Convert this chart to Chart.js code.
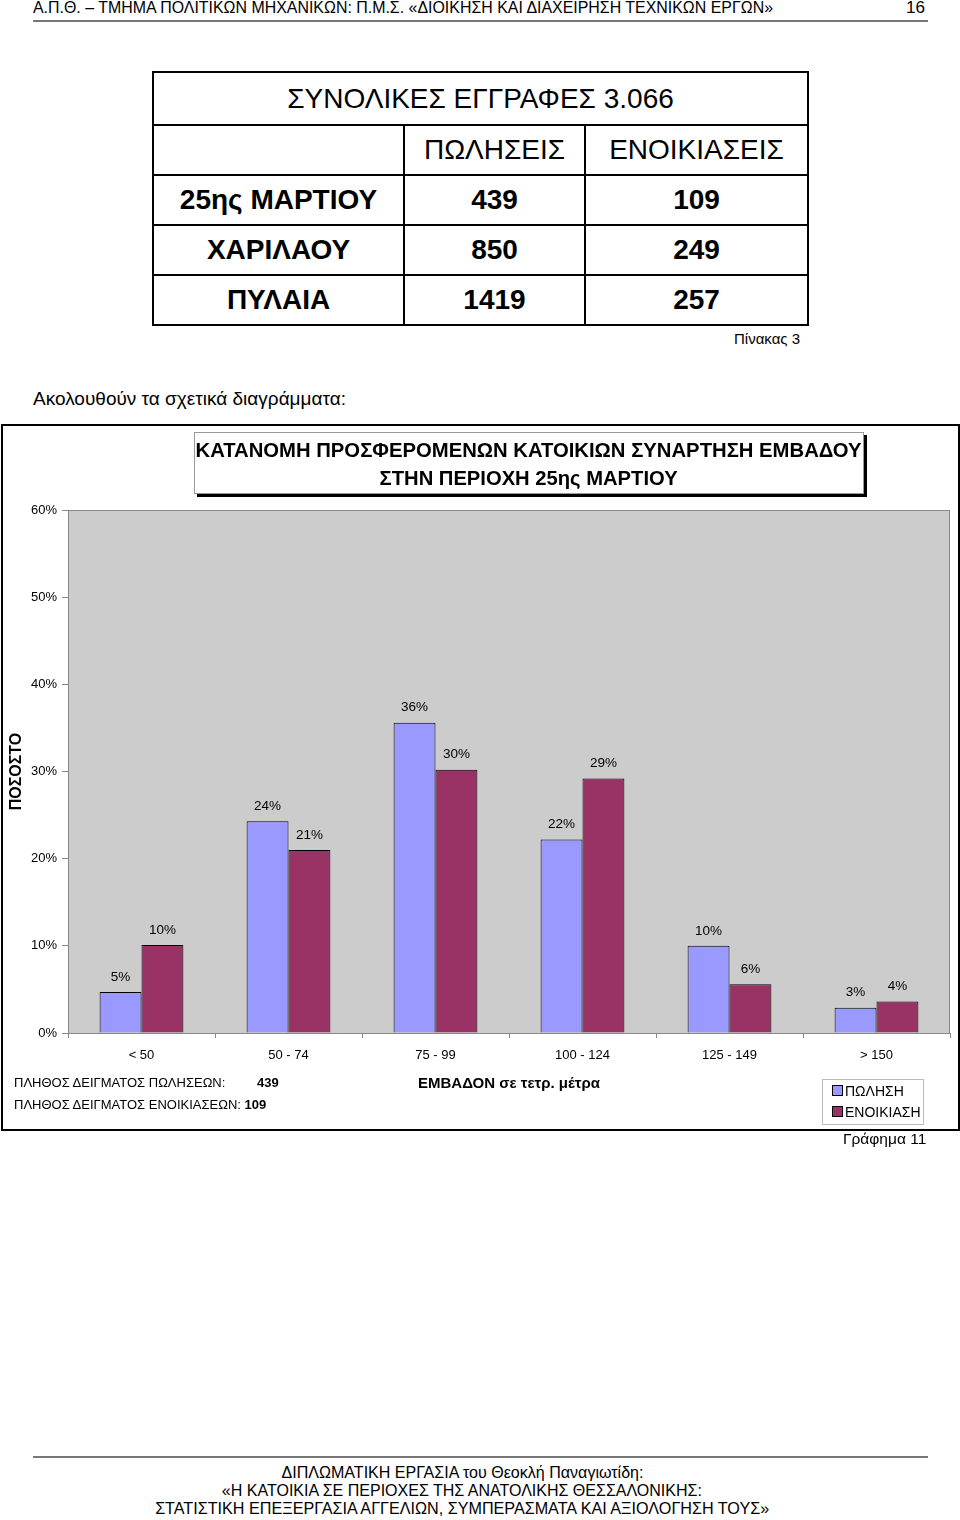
<!DOCTYPE html>
<html>
<head>
<meta charset="utf-8">
<script src="https://cdn.jsdelivr.net/npm/chart.js@4.4.1/dist/chart.umd.min.js"></script>
<style>
  html, body { margin:0; padding:0; background:#fff; }
  #page { position:relative; width:960px; height:1520px; font-family:"Liberation Sans", Arial, sans-serif; color:#000; overflow:hidden; }
  .abs { position:absolute; white-space:nowrap; }
  .fit { transform-origin:left center; display:inline-block; }
  table.t { position:absolute; left:152px; top:71px; border-collapse:collapse; font-size:28px; }
  table.t td { border:2px solid #000; text-align:center; padding:0; height:48px; }
  .b { font-weight:bold; }
  #frame { position:absolute; left:1px; top:424px; width:955px; height:703px; border:2px solid #000; }
  #titlebox { position:absolute; left:194px; top:432px; width:670px; height:62px; border:1px solid #999; background:#fff; box-shadow:3px 3px 0 #000; text-align:center; font-weight:bold; font-size:20px; line-height:28px; padding-top:3px; box-sizing:border-box; white-space:nowrap; }
  #legend { position:absolute; left:822px; top:1079px; width:100px; height:44px; border:1px solid #bbb; font-size:14px; }
  #legend div { position:absolute; left:9px; }
  #legend span.sw { display:inline-block; width:9px; height:9px; border:1px solid #000; margin-right:2px; vertical-align:0px; }
</style>
</head>
<body>
<div id="page">
  <div class="abs" style="left:33px; top:-2px; font-size:17px;"><span class="fit" data-w="740">Α.Π.Θ. – ΤΜΗΜΑ ΠΟΛΙΤΙΚΩΝ ΜΗΧΑΝΙΚΩΝ: Π.Μ.Σ. «ΔΙΟΙΚΗΣΗ ΚΑΙ ΔΙΑΧΕΙΡΗΣΗ ΤΕΧΝΙΚΩΝ ΕΡΓΩΝ»</span></div>
  <div class="abs" style="left:906px; top:-2px; font-size:17px;"><span class="fit" data-w="19">16</span></div>
  <div class="abs" style="left:33px; top:20px; width:895px; height:2px; background:#777;"></div>

  <table class="t">
    <tr><td colspan="3" style="height:51px;">ΣΥΝΟΛΙΚΕΣ ΕΓΓΡΑΦΕΣ 3.066</td></tr>
    <tr><td style="width:249px;"></td><td style="width:179px;">ΠΩΛΗΣΕΙΣ</td><td style="width:221px;">ΕΝΟΙΚΙΑΣΕΙΣ</td></tr>
    <tr><td class="b">25ης ΜΑΡΤΙΟΥ</td><td class="b">439</td><td class="b">109</td></tr>
    <tr><td class="b">ΧΑΡΙΛΑΟΥ</td><td class="b">850</td><td class="b">249</td></tr>
    <tr><td class="b">ΠΥΛΑΙΑ</td><td class="b">1419</td><td class="b">257</td></tr>
  </table>
  <div class="abs" style="left:734px; top:330px; font-size:15px;">Πίνακας 3</div>
  <div class="abs" style="left:33px; top:388px; font-size:19px;">Ακολουθούν τα σχετικά διαγράμματα:</div>

  <div id="frame"></div>
  <canvas id="c" width="954" height="700" style="position:absolute; left:3px; top:426px;"></canvas>
  <div id="titlebox"><span class="fit" data-w="666" style="transform-origin:center;">ΚΑΤΑΝΟΜΗ ΠΡΟΣΦΕΡΟΜΕΝΩΝ ΚΑΤΟΙΚΙΩΝ ΣΥΝΑΡΤΗΣΗ ΕΜΒΑΔΟΥ</span><br><span class="fit" data-w="298" style="transform-origin:center;">ΣΤΗΝ ΠΕΡΙΟΧΗ 25ης ΜΑΡΤΙΟΥ</span></div>

  <div class="abs" style="left:14px; top:1075px; font-size:13px;">ΠΛΗΘΟΣ ΔΕΙΓΜΑΤΟΣ ΠΩΛΗΣΕΩΝ:<span style="position:absolute; left:243px;" class="b" id="n1"></span></div>
  <div class="abs" style="left:14px; top:1097px; font-size:13px;">ΠΛΗΘΟΣ ΔΕΙΓΜΑΤΟΣ ΕΝΟΙΚΙΑΣΕΩΝ: <span class="b" id="n2"></span></div>

  <div id="legend">
    <div style="top:3px;"><span class="sw" id="sw1"></span><span id="l1"></span></div>
    <div style="top:24px;"><span class="sw" id="sw2"></span><span id="l2"></span></div>
  </div>
  <div class="abs" style="left:843px; top:1130px; font-size:15.5px;">Γράφημα 11</div>

  <div class="abs" style="left:33px; top:1456px; width:895px; height:2px; background:#777;"></div>
  <div class="abs" style="left:0; top:1464px; width:924px; text-align:center; font-size:16px; line-height:18px;">
    <span class="fit" data-w="362" style="transform-origin:center;">ΔΙΠΛΩΜΑΤΙΚΗ ΕΡΓΑΣΙΑ του Θεοκλή Παναγιωτίδη:</span><br>
    <span class="fit" data-w="480" style="transform-origin:center;">«Η ΚΑΤΟΙΚΙΑ ΣΕ ΠΕΡΙΟΧΕΣ ΤΗΣ ΑΝΑΤΟΛΙΚΗΣ ΘΕΣΣΑΛΟΝΙΚΗΣ:</span><br>
    <span class="fit" data-w="614" style="transform-origin:center;">ΣΤΑΤΙΣΤΙΚΗ ΕΠΕΞΕΡΓΑΣΙΑ ΑΓΓΕΛΙΩΝ, ΣΥΜΠΕΡΑΣΜΑΤΑ ΚΑΙ ΑΞΙΟΛΟΓΗΣΗ ΤΟΥΣ»</span>
  </div>
</div>
<script>
// ---- data ----
const categories = ['< 50', '50 - 74', '75 - 99', '100 - 124', '125 - 149', '> 150'];
const salesPct   = [4.7, 24.3, 35.6, 22.2, 10.0, 2.9];
const rentalsPct = [10.1, 21.0, 30.2, 29.2, 5.6, 3.6];
const seriesNames = ['ΠΩΛΗΣΗ', 'ΕΝΟΙΚΙΑΣΗ'];
const sampleSizes = [439, 109];
const yTicks = [0, 10, 20, 30, 40, 50, 60];
const xTitle = 'ΕΜΒΑΔΟΝ σε τετρ. μέτρα';
const yTitle = 'ΠΟΣΟΣΤΟ';
const colors = ['#9999FF', '#993366'];

document.getElementById('n1').textContent = sampleSizes[0];
document.getElementById('n2').textContent = sampleSizes[1];
document.getElementById('l1').textContent = seriesNames[0];
document.getElementById('l2').textContent = seriesNames[1];
document.getElementById('sw1').style.background = colors[0];
document.getElementById('sw2').style.background = colors[1];

document.querySelectorAll('.fit').forEach(el => {
  const w = el.getBoundingClientRect().width;
  const target = +el.dataset.w;
  if (w > 0 && target) el.style.transform = 'scaleX(' + (target / w) + ')';
});

const plotBg = {
  id: 'plotBg',
  beforeDraw(chart) {
    const a = chart.chartArea, ctx = chart.ctx;
    ctx.save();
    ctx.fillStyle = '#CCCCCC';
    ctx.fillRect(a.left, a.top, a.right - a.left, a.bottom - a.top);
    ctx.restore();
  },
  afterDatasetsDraw(chart) {
    const a = chart.chartArea, ctx = chart.ctx;
    ctx.save();
    ctx.strokeStyle = '#888';
    ctx.lineWidth = 1;
    ctx.strokeRect(a.left + 0.5, a.top + 0.5, a.right - a.left - 1, a.bottom - a.top);
    ctx.restore();
  }
};
const valueLabels = {
  id: 'valueLabels',
  afterDatasetsDraw(chart) {
    const ctx = chart.ctx;
    ctx.save();
    ctx.font = '13.5px "Liberation Sans", Arial, sans-serif';
    ctx.fillStyle = '#000';
    ctx.textAlign = 'center';
    ctx.textBaseline = 'middle';
    chart.data.datasets.forEach((ds, i) => {
      chart.getDatasetMeta(i).data.forEach((bar, j) => {
        ctx.fillText(Math.round(ds.data[j]) + '%', bar.x, bar.y - 15);
      });
    });
    ctx.restore();
  }
};

new Chart(document.getElementById('c'), {
  type: 'bar',
  data: {
    labels: categories,
    datasets: [
      { label: seriesNames[0], data: salesPct, backgroundColor: colors[0], borderColor: '#000', borderWidth: 1, borderSkipped: 'bottom' },
      { label: seriesNames[1], data: rentalsPct, backgroundColor: colors[1], borderColor: '#000', borderWidth: 1, borderSkipped: 'bottom' }
    ]
  },
  options: {
    responsive: false,
    animation: false,
    devicePixelRatio: 1,
    layout: { padding: { top: 84, right: 7, left: 0, bottom: 0 } },
    datasets: { bar: { barPercentage: 1, categoryPercentage: 0.57 } },
    plugins: { legend: { display: false }, tooltip: { enabled: false }, title: { display: false } },
    scales: {
      x: {
        grid: { display: true, drawOnChartArea: false, drawTicks: true, tickLength: 5, color: '#888', offset: true },
        border: { display: false },
        ticks: { padding: 10, color: '#000', font: { family: '"Liberation Sans", Arial, sans-serif', size: 13 }, maxRotation: 0 },
        title: { display: true, text: xTitle, color: '#000', font: { family: '"Liberation Sans", Arial, sans-serif', size: 15, weight: 'bold' }, padding: { top: 0, bottom: 33 } },
        afterFit(s) { s.height = 93; }
      },
      y: {
        min: 0, max: 60,
        afterBuildTicks(s) { s.ticks = yTicks.map(v => ({ value: v })); },
        grid: { display: true, drawOnChartArea: false, drawTicks: true, tickLength: 6, color: '#888' },
        border: { display: false },
        ticks: { padding: 5, color: '#000', callback: v => v + '%', font: { family: '"Liberation Sans", Arial, sans-serif', size: 13 } },
        title: { display: true, text: yTitle, color: '#000', font: { family: '"Liberation Sans", Arial, sans-serif', size: 16, weight: 'bold' }, padding: { top: 4, bottom: 0 } },
        afterFit(s) { s.width = 65; }
      }
    }
  },
  plugins: [plotBg, valueLabels]
});
</script>
</body>
</html>
